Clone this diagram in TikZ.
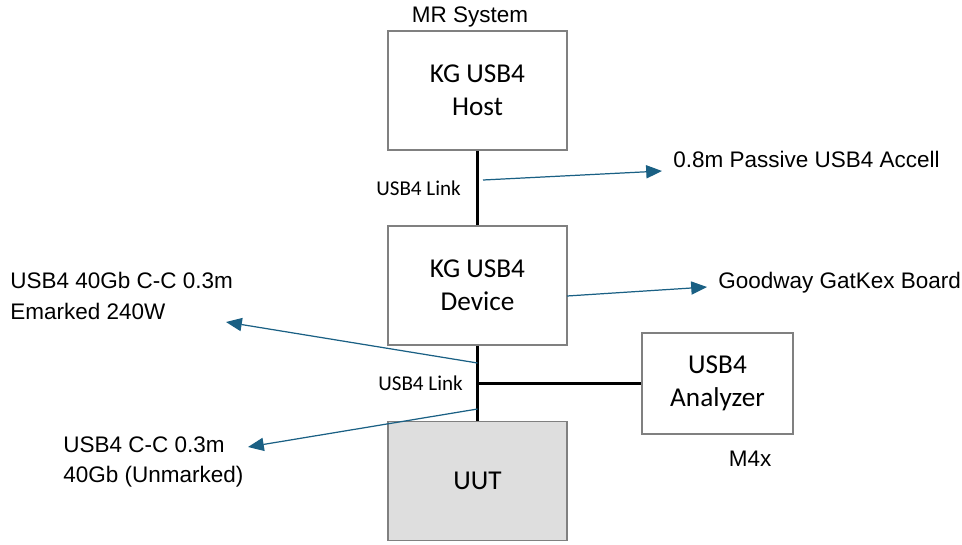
\documentclass[tikz,border=0pt]{standalone}
\usepackage{fontspec}
\setmainfont{Liberation Sans}
\newfontfamily\boxfont{Carlito}
\usetikzlibrary{arrows.meta,positioning}
\definecolor{mrgray}{RGB}{128,128,128}
\definecolor{mrfill}{RGB}{222,222,222}
\definecolor{mrteal}{RGB}{26,96,132}
\tikzset{
  ubox/.style={draw=mrgray, line width=0.8pt, fill=#1, align=center,
               font=\boxfont\fontsize{15.5}{18.5}\selectfont,
               minimum width=3.58cm, minimum height=2.38cm},
  ubox/.default=white,
  linklbl/.style={font=\boxfont\fontsize{12}{14}\selectfont, anchor=east},
  cablelbl/.style={font=\fontsize{12.8}{17.5}\selectfont, align=left, anchor=west, inner sep=0pt},
  link/.style={black, line width=1.4pt},
  tarrow/.style={mrteal, line width=0.7pt, -{Triangle[length=9pt,width=7.5pt]}},
}
\begin{document}
\begin{tikzpicture}[x=0.02cm, y=-0.02cm]
\useasboundingbox (0,0) rectangle (962,544);

% --- Boxes ---
\node[font=\fontsize{12.8}{14}\selectfont] (mrsys) at (470,17) {MR System};
\node[ubox] (host) at (477.5,90.5) {KG USB4\\Host};
\node[ubox] (device) at (477.5,285.5) {KG USB4\\Device};
\node[ubox=mrfill] (uut) at (477.5,481) {UUT};
\node[ubox, minimum width=3.02cm, minimum height=2.02cm] (analyzer) at (717.5,383.5) {USB4\\Analyzer};
\node[font=\fontsize{12.8}{14}\selectfont] (m4x) at (750,459) {M4x};

% --- USB4 links ---
\draw[link] (host.south) -- (device.north);
\draw[link] (device.south) -- (uut.north);
\coordinate (tap) at (477.5,383.5);
\draw[link] (tap) -- (analyzer.west);
\node[linklbl] (link1) at (467,188) {USB4 Link};
\node[linklbl] (link2) at (469,383) {USB4 Link};

% --- Cable / board callouts ---
\coordinate (accFrom) at (483,180);
\coordinate (accTo) at (662,171);
\node[cablelbl] (accell) at (673,159) {0.8m Passive USB4 Accell};
\draw[tarrow] (accFrom) -- (accTo);

\coordinate (gwFrom) at (567,296);
\coordinate (gwTo) at (707,287);
\node[cablelbl] (goodway) at (718,283) {Goodway GatKex Board};
\draw[tarrow] (gwFrom) -- (gwTo);

\coordinate (emFrom) at (477.5,363);
\coordinate (emTo) at (226,322);
\node[cablelbl] (emarked) at (10,296) {USB4 40Gb C-C 0.3m\\Emarked 240W};
\draw[tarrow] (emFrom) -- (emTo);

\coordinate (unFrom) at (477.5,409);
\coordinate (unTo) at (248,447);
\node[cablelbl] (unmarked) at (63,462) {USB4 C-C 0.3m\\40Gb (Unmarked)};
\draw[tarrow] (unFrom) -- (unTo);

\end{tikzpicture}
\end{document}
